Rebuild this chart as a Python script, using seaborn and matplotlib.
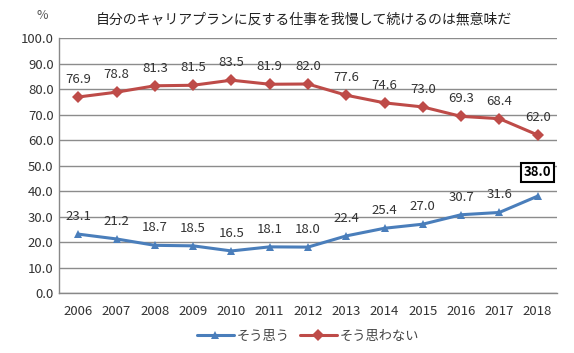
import matplotlib.pyplot as plt
import pandas as pd
import seaborn as sns

years = ["2006", "2007", "2008", "2009", "2010", "2011", "2012",
         "2013", "2014", "2015", "2016", "2017", "2018"]
agree = [23.1, 21.2, 18.7, 18.5, 16.5, 18.1, 18.0, 22.4, 25.4, 27.0, 30.7, 31.6, 38.0]
disagree = [76.9, 78.8, 81.3, 81.5, 83.5, 81.9, 82.0, 77.6, 74.6, 73.0, 69.3, 68.4, 62.0]
series_names = ["そう思う", "そう思わない"]
title = "自分のキャリアプランに反する仕事を我慢して続けるのは無意味だ"

df = pd.DataFrame({"year": years * 2,
                   "value": agree + disagree,
                   "series": [series_names[0]] * len(years) + [series_names[1]] * len(years)})
df["x"] = list(range(len(years))) * 2

sns.set_style("white")
plt.rcParams["font.family"] = ["Noto Sans CJK JP", "DejaVu Sans"]

fig = plt.figure(figsize=(5.74, 3.53), dpi=100)
ax = fig.add_axes([0.103, 0.170, 0.867, 0.722])

colors = {"そう思う": "#4A7EBB", "そう思わない": "#BE4B48"}
markers = {"そう思う": "^", "そう思わない": "D"}
sns.lineplot(df, x="x", y="value", hue="series", style="series",
             palette=colors, markers=markers, dashes=False,
             markersize=6, linewidth=2.2, markeredgewidth=0, ax=ax)

lab_fs = 9.5
txt_col = "#333333"

# data labels
for i, v in enumerate(disagree):
    ax.annotate(f"{v:.1f}", (i, v), xytext=(0, 8), textcoords="offset points",
                ha="center", va="bottom", fontsize=lab_fs, color=txt_col)
for i, v in enumerate(agree):
    if i == len(agree) - 1:
        ax.annotate(f"{v:.1f}", (i, v), xytext=(0, 12), textcoords="offset points",
                    ha="center", va="bottom", fontsize=lab_fs, fontweight="bold",
                    color="black",
                    bbox=dict(boxstyle="square,pad=0.2", fc="white", ec="black", lw=1.5))
    else:
        ax.annotate(f"{v:.1f}", (i, v), xytext=(0, 8), textcoords="offset points",
                    ha="center", va="bottom", fontsize=lab_fs, color=txt_col)

ax.set_xlim(-0.5, len(years) - 0.5)
ax.set_ylim(0, 100)
ax.set_yticks(range(0, 101, 10))
ax.set_yticklabels([f"{t:.1f}" for t in range(0, 101, 10)], fontsize=lab_fs, color=txt_col)
ax.set_xticks(range(len(years)))
ax.set_xticklabels(years, fontsize=lab_fs, color=txt_col)
ax.set_xticks([i - 0.5 for i in range(len(years) + 1)], minor=True)
ax.tick_params(axis="x", which="major", length=0, pad=9)
ax.tick_params(axis="x", which="minor", length=4, color="#888888", direction="out")
ax.tick_params(axis="y", length=0, pad=4)
ax.yaxis.grid(True, color="#8c8c8c", linewidth=1)
ax.set_axisbelow(True)
for s in ["top", "right"]:
    ax.spines[s].set_visible(False)
for s in ["left", "bottom"]:
    ax.spines[s].set_color("#888888")
    ax.spines[s].set_linewidth(1)
ax.set_xlabel("")
ax.set_ylabel("")

fig.text(0.073, 0.955, "%", ha="center", va="center", fontsize=9, color="#555555")
fig.text(0.53, 0.945, title, ha="center", va="center", fontsize=10, color="#222222")

handles, labels = ax.get_legend_handles_labels()
leg = ax.legend(handles, labels, loc="center", bbox_to_anchor=(0.5, -0.17),
                ncol=2, frameon=False, fontsize=lab_fs, handlelength=2.8,
                columnspacing=0.8, handletextpad=0.2)
for t in leg.get_texts():
    t.set_color("#444444")

fig.savefig("out.png", dpi=100)
